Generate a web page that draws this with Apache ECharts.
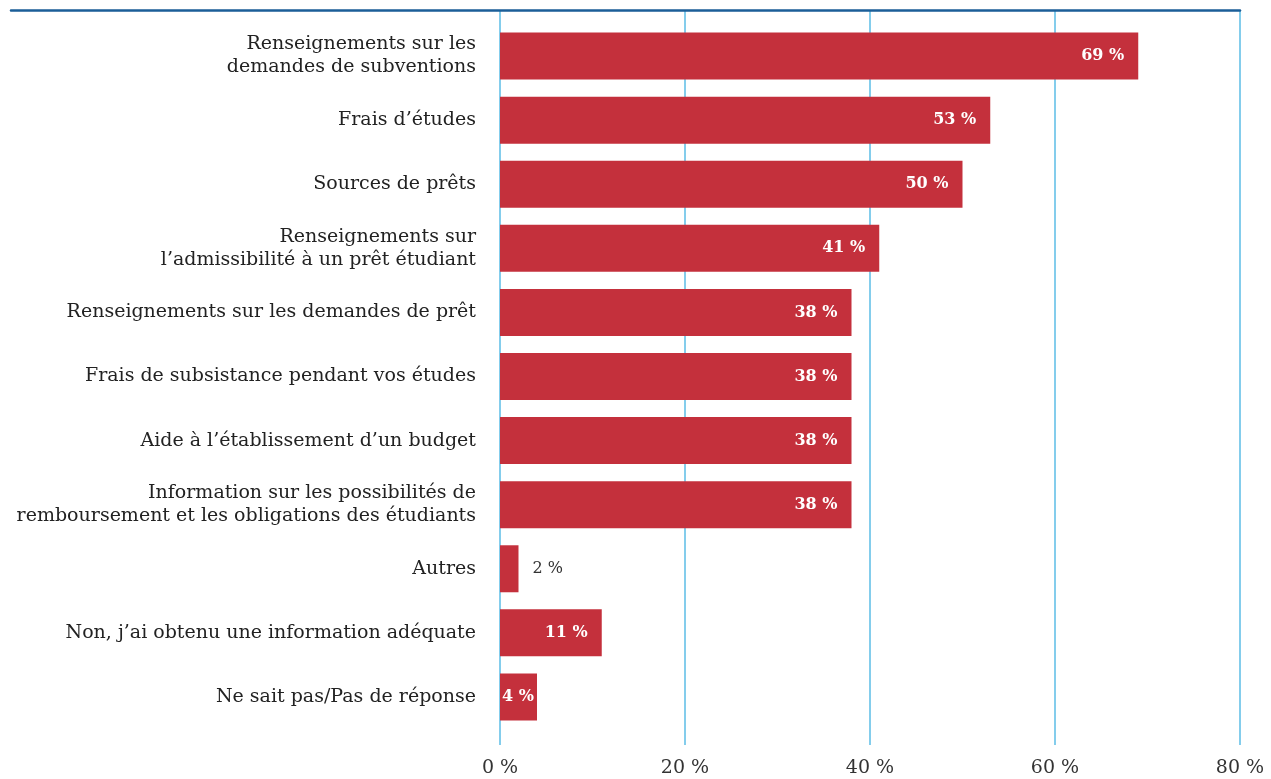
<!DOCTYPE html>
<html>
<head>
<meta charset="utf-8">
<script src="https://cdn.jsdelivr.net/npm/echarts@6/dist/echarts.min.js"></script>
<style>
html,body{margin:0;padding:0;background:#fff;}
#chart{width:1271px;height:779px;}
</style>
</head>
<body>
<div id="chart"></div>
<script>
const categories = [
  "Renseignements sur les\ndemandes de subventions",
  "Frais d’études",
  "Sources de prêts",
  "Renseignements sur\nl’admissibilité à un prêt étudiant",
  "Renseignements sur les demandes de prêt",
  "Frais de subsistance pendant vos études",
  "Aide à l’établissement d’un budget",
  "Information sur les possibilités de\nremboursement et les obligations des étudiants",
  "Autres",
  "Non, j’ai obtenu une information adéquate",
  "Ne sait pas/Pas de réponse"
];
const values = [69, 53, 50, 41, 38, 38, 38, 38, 2, 11, 4];
const tickValues = [0, 20, 40, 60, 80];

const FONT = "DejaVu Serif";
const chart = echarts.init(document.getElementById('chart'));
const data = values.map(v => ({
  value: v,
  label: v < 3
    ? {position: 'right', distance: 14, color: '#333', fontWeight: 'normal'}
    : {position: 'insideRight', distance: v < 6 ? 3 : 14, color: '#fff', fontWeight: 'bold'}
}));

chart.setOption({
  animation: false,
  grid: [
    {left: 500, right: 31, top: 11, bottom: 34},
    {left: 500, right: 31, top: 24, bottom: 50},
    {left: 11, right: 31, top: 10, height: 0}
  ],
  xAxis: [
    {gridIndex: 0, type: 'value', min: tickValues[0], max: tickValues[tickValues.length - 1], interval: 20,
     axisLine: {show: false}, axisTick: {show: false},
     splitLine: {show: true, lineStyle: {color: '#5bbde6', width: 1.5}},
     axisLabel: {formatter: v => v + ' %', fontFamily: FONT, fontSize: 19, color: '#333', margin: 14}},
    {gridIndex: 1, type: 'value', min: 0, max: 80, show: false},
    {gridIndex: 2, type: 'value', position: 'top', min: 0, max: 1,
     axisLine: {show: true, lineStyle: {color: '#1b5e98', width: 2.5}},
     axisTick: {show: false}, axisLabel: {show: false}, splitLine: {show: false}}
  ],
  yAxis: [
    {gridIndex: 0, type: 'value', show: false},
    {gridIndex: 1, type: 'category', inverse: true, data: categories,
     axisLine: {show: false}, axisTick: {show: false},
     axisLabel: {fontFamily: FONT, fontSize: 19, color: '#222', margin: 24, lineHeight: 23, align: 'right'}},
    {gridIndex: 2, type: 'value', show: false}
  ],
  series: [{
    type: 'bar',
    xAxisIndex: 1, yAxisIndex: 1,
    data: data,
    barWidth: 47,
    itemStyle: {color: '#c4303c'},
    label: {show: true, formatter: p => p.value + ' %', fontFamily: FONT, fontSize: 16}
  }]
});
</script>
</body>
</html>
